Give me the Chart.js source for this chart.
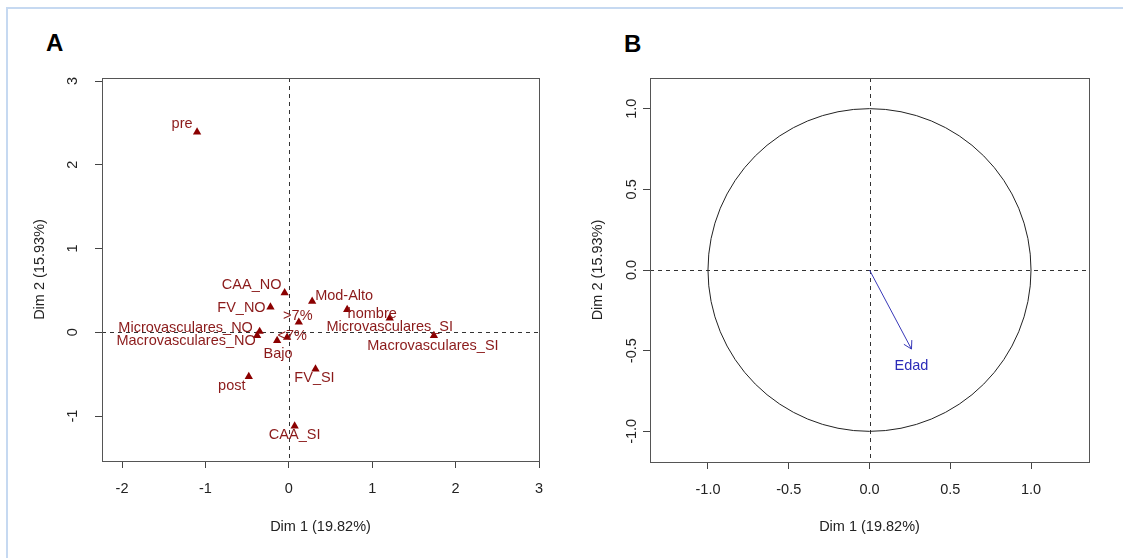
<!DOCTYPE html>
<html>
<head>
<meta charset="utf-8">
<script src="https://cdn.jsdelivr.net/npm/chart.js@4.4.0/dist/chart.umd.min.js"></script>
<style>
  body { margin: 0; background: #fff; width: 1123px; height: 558px; overflow: hidden; position: relative; }
  #frame { position: absolute; left: 6px; top: 7px; right: 0; bottom: 0; border-top: 2px solid #c6d9f1; border-left: 2px solid #c6d9f1; }
  canvas { position: absolute; top: 0; }
  #chartA { left: 0; }
  #chartB { left: 560px; }
  .tag { position: absolute; font: bold 24px/24px "Liberation Sans", Arial, sans-serif; color: #000; }
</style>
</head>
<body>
<div id="frame"></div>
<div class="tag" style="left:46px;top:31px">A</div>
<div class="tag" style="left:624px;top:32px">B</div>
<canvas id="chartA" width="560" height="558"></canvas>
<canvas id="chartB" width="563" height="558"></canvas>
<script>
// --- panel A: categories on the first two dimensions
var catLabels = ['pre', 'CAA_NO', 'Mod-Alto', 'FV_NO', 'hombre', '>7%', 'Microvasculares_SI',
  'Microvasculares_NO', 'Macrovasculares_NO', 'Macrovasculares_SI', '<7%', 'Bajo', 'post', 'FV_SI', 'CAA_SI'];
var catDim1 = [-1.10, -0.05, 0.28, -0.22, 0.70, 0.12, 1.21, -0.35, -0.38, 1.74, -0.02, -0.14, -0.48, 0.32, 0.07];
var catDim2 = [2.39, 0.47, 0.37, 0.30, 0.27, 0.12, 0.17, 0.01, -0.04, -0.04, -0.06, -0.10, -0.53, -0.44, -1.12];
var xTicksA = [-2, -1, 0, 1, 2, 3];
var yTicksA = [-1, 0, 1, 2, 3];

// --- panel B: supplementary quantitative variable
var varNames = ['Edad'];
var varDim1 = [0.26];
var varDim2 = [-0.49];
var ticksB = [-1.0, -0.5, 0.0, 0.5, 1.0];

// label nudges in pixels (like R autoLab placement)
var nudge = {
  'pre': [-15, -8], 'CAA_NO': [-33, -8], 'Mod-Alto': [32, -5], 'FV_NO': [-29, 1],
  'hombre': [25, 4], '>7%': [-1, -6], 'Microvasculares_SI': [0, 9], 'Microvasculares_NO': [-74, -3],
  'Macrovasculares_NO': [-71, 5], 'Macrovasculares_SI': [-1, 10], '<7%': [5, -1], 'Bajo': [1, 13],
  'post': [-17, 9], 'FV_SI': [-1, 9], 'CAA_SI': [0, 9]
};

var FAM = '"Liberation Sans", Arial, sans-serif';
var FS = 14.5;

// dashed zero lines, box and rotated y tick labels
var framePlugin = {
  id: 'frame',
  beforeDatasetsDraw: function(chart, args, opts) {
    var ctx = chart.ctx, a = chart.chartArea, x = chart.scales.x, y = chart.scales.y;
    ctx.save();
    ctx.strokeStyle = '#333';
    ctx.lineWidth = 1;
    ctx.setLineDash([4, 4]);
    var x0 = Math.round(x.getPixelForValue(0)) + 0.5;
    var y0 = Math.round(y.getPixelForValue(0)) + 0.5;
    ctx.beginPath();
    ctx.moveTo(x0, a.top); ctx.lineTo(x0, a.bottom);
    ctx.moveTo(a.left, y0); ctx.lineTo(a.right, y0);
    ctx.stroke();
    ctx.setLineDash([]);
    if (opts.circle) {
      var cx = x.getPixelForValue(0), cy = y.getPixelForValue(0);
      ctx.strokeStyle = '#222';
      ctx.beginPath();
      ctx.ellipse(cx, cy, x.getPixelForValue(1) - cx, cy - y.getPixelForValue(1), 0, 0, Math.PI * 2);
      ctx.stroke();
    }
    ctx.strokeStyle = '#555';
    ctx.strokeRect(Math.round(a.left) + 0.5, Math.round(a.top) + 0.5,
      Math.round(a.right - a.left), Math.round(a.bottom - a.top));
    ctx.fillStyle = '#222';
    ctx.font = FS + 'px ' + FAM;
    ctx.textAlign = 'center';
    ctx.textBaseline = 'middle';
    y.ticks.forEach(function(t) {
      ctx.save();
      ctx.translate(opts.labelX, y.getPixelForValue(t.value));
      ctx.rotate(-Math.PI / 2);
      ctx.fillText(t.value.toFixed(opts.digits), 0, 0);
      ctx.restore();
    });
    ctx.restore();
  },
  afterDatasetsDraw: function(chart, args, opts) {
    var ctx = chart.ctx;
    ctx.save();
    ctx.font = FS + 'px ' + FAM;
    ctx.textAlign = 'center';
    ctx.textBaseline = 'middle';
    chart.data.datasets.forEach(function(ds, di) {
      if (!ds.names) return;
      var meta = chart.getDatasetMeta(di);
      ctx.fillStyle = ds.labelColor;
      if (ds.arrow) {
        var p0 = meta.data[0], p1 = meta.data[1];
        var ang = Math.atan2(p1.y - p0.y, p1.x - p0.x), L = 9;
        ctx.strokeStyle = ds.borderColor;
        ctx.lineWidth = 1;
        ctx.beginPath();
        ctx.moveTo(p1.x - L * Math.cos(ang - Math.PI / 6), p1.y - L * Math.sin(ang - Math.PI / 6));
        ctx.lineTo(p1.x, p1.y);
        ctx.lineTo(p1.x - L * Math.cos(ang + Math.PI / 6), p1.y - L * Math.sin(ang + Math.PI / 6));
        ctx.stroke();
        ctx.fillText(ds.names[0], p1.x, p1.y + 17);
        return;
      }
      meta.data.forEach(function(p, i) {
        var n = ds.names[i], d = nudge[n] || [0, -10];
        ctx.fillText(n, p.x + d[0], p.y + d[1]);
      });
    });
    ctx.restore();
  }
};

function axisX(min, max, ticks, h, digits, pad) {
  return {
    type: 'linear', min: min, max: max,
    afterBuildTicks: function(s) { s.ticks = ticks.map(function(v) { return {value: v}; }); },
    afterFit: function(s) { s.height = h; },
    grid: {drawOnChartArea: false, tickLength: 7, tickColor: '#444', color: '#444'},
    border: {display: false},
    ticks: {color: '#222', padding: 12, maxRotation: 0, autoSkip: false, font: {size: FS, family: FAM},
      callback: function(v) { return Number(v).toFixed(digits); }},
    title: {display: true, text: 'Dim 1 (19.82%)', color: '#222', font: {size: FS, family: FAM},
      padding: {top: 0, bottom: pad}}
  };
}
function axisY(min, max, ticks, w, pad) {
  return {
    type: 'linear', min: min, max: max,
    afterBuildTicks: function(s) { s.ticks = ticks.map(function(v) { return {value: v}; }); },
    afterFit: function(s) { s.width = w; },
    grid: {drawOnChartArea: false, tickLength: 7, tickColor: '#444', color: '#444'},
    border: {display: false},
    ticks: {display: false},
    title: {display: true, text: 'Dim 2 (15.93%)', color: '#222', font: {size: FS, family: FAM},
      padding: {top: pad, bottom: 0}}
  };
}

Chart.register(framePlugin);

// panel A
new Chart(document.getElementById('chartA'), {
  type: 'scatter',
  data: {
    datasets: [{
      names: catLabels,
      labelColor: '#8B1A1A',
      data: catDim1.map(function(v, i) { return {x: v, y: catDim2[i]}; }),
      pointStyle: 'triangle',
      pointRadius: 4.8,
      pointHoverRadius: 4.8,
      backgroundColor: '#8B0000',
      borderColor: '#8B0000',
      borderWidth: 0
    }]
  },
  options: {
    responsive: false,
    animation: false,
    layout: {padding: {top: 78, right: 21, bottom: 0, left: 0}},
    plugins: {legend: {display: false}, tooltip: {enabled: false}, frame: {labelX: 73, digits: 0}},
    scales: {
      x: axisX(-2.24, 3.0, xTicksA, 97, 0, 22),
      y: axisY(-1.537, 3.036, yTicksA, 102, 31)
    }
  }
});

// panel B
new Chart(document.getElementById('chartB'), {
  type: 'scatter',
  data: {
    datasets: [{
      names: varNames,
      arrow: true,
      labelColor: '#2B2BB8',
      data: [{x: 0, y: 0}, {x: varDim1[0], y: varDim2[0]}],
      showLine: true,
      pointRadius: 0,
      borderColor: '#3838B8',
      borderWidth: 1
    }]
  },
  options: {
    responsive: false,
    animation: false,
    layout: {padding: {top: 78, right: 34, bottom: 0, left: 0}},
    plugins: {legend: {display: false}, tooltip: {enabled: false}, frame: {labelX: 72, digits: 1, circle: true}},
    scales: {
      x: axisX(-1.359, 1.359, ticksB, 96, 1, 22),
      y: axisY(-1.19, 1.19, ticksB, 90, 29)
    }
  }
});
</script>
</body>
</html>
